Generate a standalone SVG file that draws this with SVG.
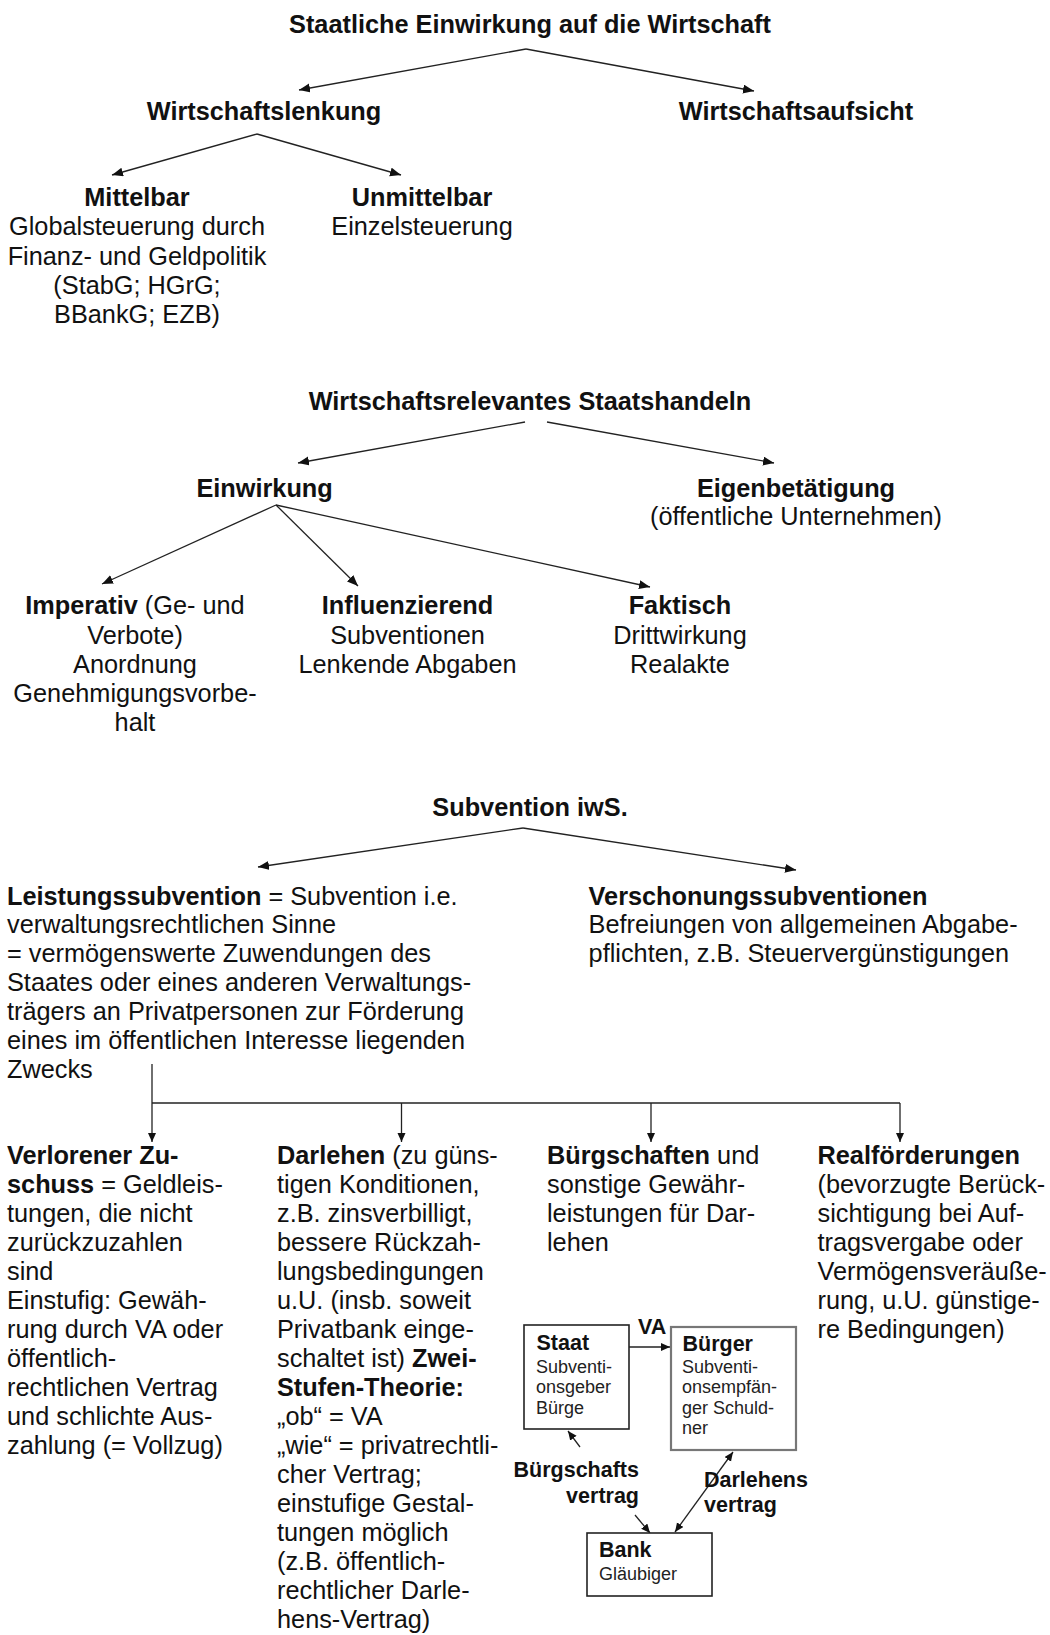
<svg xmlns="http://www.w3.org/2000/svg" width="1050" height="1635" viewBox="0 0 1050 1635">
  <style>
    .t { font-family: "Liberation Sans", Arial, sans-serif; font-size: 25.3px; fill: #111; }
    .b { font-weight: bold; }
    .c { text-anchor: middle; }
    .r { text-anchor: end; }
    .mb { font-family: "Liberation Sans", Arial, sans-serif; font-size: 21.5px; font-weight: bold; fill: #111; }
    .ms { font-family: "Liberation Sans", Arial, sans-serif; font-size: 18px; fill: #222; }
    .ln { stroke: #222; stroke-width: 1.3; fill: none; }
    .box { fill: #fff; stroke: #222; stroke-width: 1.6; }
    .box2 { fill: #fff; stroke: #777; stroke-width: 2.2; }
  </style>
  <defs>
    <marker id="ah" markerUnits="userSpaceOnUse" markerWidth="12" markerHeight="10" refX="11" refY="4.5" orient="auto">
      <path d="M0,0 L11,4.5 L0,9 z" fill="#111"/>
    </marker>
    <marker id="ahs" markerUnits="userSpaceOnUse" markerWidth="10" markerHeight="9" refX="9" refY="4" orient="auto-start-reverse">
      <path d="M0,0 L9,4 L0,8 z" fill="#111"/>
    </marker>
  </defs>
  <rect width="1050" height="1635" fill="#fff"/>

  <!-- connectors -->
  <g id="connectors">
    <path class="ln" d="M526,49 L299,90" marker-end="url(#ah)"/>
    <path class="ln" d="M526,49 L754,91" marker-end="url(#ah)"/>
    <path class="ln" d="M257,134 L112,175" marker-end="url(#ah)"/>
    <path class="ln" d="M257,134 L401,175" marker-end="url(#ah)"/>

    <path class="ln" d="M525,422 L298,463" marker-end="url(#ah)"/>
    <path class="ln" d="M547,422 L774,463" marker-end="url(#ah)"/>
    <path class="ln" d="M276,505 L102,584" marker-end="url(#ah)"/>
    <path class="ln" d="M276,505 L358,586" marker-end="url(#ah)"/>
    <path class="ln" d="M276,505 L650,587" marker-end="url(#ah)"/>

    <path class="ln" d="M523,828 L258,867" marker-end="url(#ah)"/>
    <path class="ln" d="M523,828 L796,870" marker-end="url(#ah)"/>

    <path class="ln" d="M152,1064 L152,1142" marker-end="url(#ahs)"/>
    <path class="ln" d="M152,1103 L900,1103"/>
    <path class="ln" d="M401.5,1103 L401.5,1142" marker-end="url(#ahs)"/>
    <path class="ln" d="M651,1103 L651,1142" marker-end="url(#ahs)"/>
    <path class="ln" d="M900,1103 L900,1142" marker-end="url(#ahs)"/>

    <path class="ln" d="M629,1347 L670,1347" marker-end="url(#ahs)"/>
    <path class="ln" d="M580,1447 L568,1431" marker-end="url(#ahs)"/>
    <path class="ln" d="M635,1515 L650,1533" marker-end="url(#ahs)"/>
    <path class="ln" d="M675,1532 L733,1452" marker-start="url(#ahs)" marker-end="url(#ahs)"/>
  </g>

  <!-- Staatliche Einwirkung -->
  <g id="staatliche-einwirkung">
    <text class="t b c" x="530" y="32.5">Staatliche Einwirkung auf die Wirtschaft</text>
  </g>
  <g id="wirtschaftslenkung">
    <text class="t b c" x="264" y="120">Wirtschaftslenkung</text>
  </g>
  <g id="wirtschaftsaufsicht">
    <text class="t b c" x="796" y="120">Wirtschaftsaufsicht</text>
  </g>
  <g id="mittelbar">
    <text class="t b c" x="137" y="206">Mittelbar</text>
    <text class="t c" x="137" y="235.3">Globalsteuerung durch</text>
    <text class="t c" x="137" y="264.6">Finanz- und Geldpolitik</text>
    <text class="t c" x="137" y="293.9">(StabG; HGrG;</text>
    <text class="t c" x="137" y="323.2">BBankG; EZB)</text>
  </g>
  <g id="unmittelbar">
    <text class="t b c" x="422" y="206">Unmittelbar</text>
    <text class="t c" x="422" y="235.3">Einzelsteuerung</text>
  </g>

  <!-- Wirtschaftsrelevantes Staatshandeln -->
  <g id="staatshandeln">
    <text class="t b c" x="530" y="409.5">Wirtschaftsrelevantes Staatshandeln</text>
  </g>
  <g id="einwirkung">
    <text class="t b c" x="264.6" y="496.5">Einwirkung</text>
  </g>
  <g id="eigenbetaetigung">
    <text class="t b c" x="796" y="496.5">Eigenbetätigung</text>
    <text class="t c" x="796" y="525">(öffentliche Unternehmen)</text>
  </g>
  <g id="imperativ">
    <text class="t c" x="135" y="614.4"><tspan class="b">Imperativ</tspan> (Ge- und</text>
    <text class="t c" x="135" y="643.5">Verbote)</text>
    <text class="t c" x="135" y="672.6">Anordnung</text>
    <text class="t c" x="135" y="701.7">Genehmigungsvorbe-</text>
    <text class="t c" x="135" y="730.8">halt</text>
  </g>
  <g id="influenzierend">
    <text class="t b c" x="407.5" y="614.4">Influenzierend</text>
    <text class="t c" x="407.5" y="643.5">Subventionen</text>
    <text class="t c" x="407.5" y="672.6">Lenkende Abgaben</text>
  </g>
  <g id="faktisch">
    <text class="t b c" x="680" y="614.4">Faktisch</text>
    <text class="t c" x="680" y="643.5">Drittwirkung</text>
    <text class="t c" x="680" y="672.6">Realakte</text>
  </g>

  <!-- Subvention iwS. -->
  <g id="subvention-iws">
    <text class="t b c" x="530" y="816.2">Subvention iwS.</text>
  </g>
  <g id="leistungssubvention">
    <text class="t" x="7" y="904.5"><tspan class="b">Leistungssubvention</tspan> = Subvention i.e.</text>
    <text class="t" x="7" y="933.4">verwaltungsrechtlichen Sinne</text>
    <text class="t" x="7" y="962.3">= vermögenswerte Zuwendungen des</text>
    <text class="t" x="7" y="991.2">Staates oder eines anderen Verwaltungs-</text>
    <text class="t" x="7" y="1020.1">trägers an Privatpersonen zur Förderung</text>
    <text class="t" x="7" y="1049">eines im öffentlichen Interesse liegenden</text>
    <text class="t" x="7" y="1077.9">Zwecks</text>
  </g>
  <g id="verschonungssubventionen">
    <text class="t b" x="588.6" y="904.5">Verschonungssubventionen</text>
    <text class="t" x="588.6" y="933.4">Befreiungen von allgemeinen Abgabe-</text>
    <text class="t" x="588.6" y="962.3">pflichten, z.B. Steuervergünstigungen</text>
  </g>

  <g id="verlorener-zuschuss">
    <text class="t b" x="7" y="1164">Verlorener Zu-</text>
    <text class="t" x="7" y="1193"><tspan class="b">schuss</tspan> = Geldleis-</text>
    <text class="t" x="7" y="1222">tungen, die nicht</text>
    <text class="t" x="7" y="1251">zurückzuzahlen</text>
    <text class="t" x="7" y="1280">sind</text>
    <text class="t" x="7" y="1309">Einstufig: Gewäh-</text>
    <text class="t" x="7" y="1338">rung durch VA oder</text>
    <text class="t" x="7" y="1367">öffentlich-</text>
    <text class="t" x="7" y="1396">rechtlichen Vertrag</text>
    <text class="t" x="7" y="1425">und schlichte Aus-</text>
    <text class="t" x="7" y="1454">zahlung (= Vollzug)</text>
  </g>
  <g id="darlehen">
    <text class="t" x="277" y="1164"><tspan class="b">Darlehen</tspan> (zu güns-</text>
    <text class="t" x="277" y="1193">tigen Konditionen,</text>
    <text class="t" x="277" y="1222">z.B. zinsverbilligt,</text>
    <text class="t" x="277" y="1251">bessere Rückzah-</text>
    <text class="t" x="277" y="1280">lungsbedingungen</text>
    <text class="t" x="277" y="1309">u.U. (insb. soweit</text>
    <text class="t" x="277" y="1338">Privatbank einge-</text>
    <text class="t" x="277" y="1367">schaltet ist) <tspan class="b">Zwei-</tspan></text>
    <text class="t b" x="277" y="1396">Stufen-Theorie:</text>
    <text class="t" x="277" y="1425">„ob“ = VA</text>
    <text class="t" x="277" y="1454">„wie“ = privatrechtli-</text>
    <text class="t" x="277" y="1483">cher Vertrag;</text>
    <text class="t" x="277" y="1512">einstufige Gestal-</text>
    <text class="t" x="277" y="1541">tungen möglich</text>
    <text class="t" x="277" y="1570">(z.B. öffentlich-</text>
    <text class="t" x="277" y="1599">rechtlicher Darle-</text>
    <text class="t" x="277" y="1628">hens-Vertrag)</text>
  </g>
  <g id="buergschaften">
    <text class="t" x="547" y="1164"><tspan class="b">Bürgschaften</tspan> und</text>
    <text class="t" x="547" y="1193">sonstige Gewähr-</text>
    <text class="t" x="547" y="1222">leistungen für Dar-</text>
    <text class="t" x="547" y="1251">lehen</text>
  </g>
  <g id="realfoerderungen">
    <text class="t b" x="817.5" y="1164">Realförderungen</text>
    <text class="t" x="817.5" y="1193">(bevorzugte Berück-</text>
    <text class="t" x="817.5" y="1222">sichtigung bei Auf-</text>
    <text class="t" x="817.5" y="1251">tragsvergabe oder</text>
    <text class="t" x="817.5" y="1280">Vermögensveräuße-</text>
    <text class="t" x="817.5" y="1309">rung, u.U. günstige-</text>
    <text class="t" x="817.5" y="1338">re Bedingungen)</text>
  </g>

  <!-- guarantee triangle: Staat, Bürger, Bank -->
  <g id="staat">
    <rect class="box" x="524" y="1325" width="105" height="104"/>
    <text class="mb" x="536.5" y="1350">Staat</text>
    <text class="ms" x="536" y="1372.7">Subventi-</text>
    <text class="ms" x="536" y="1393.2">onsgeber</text>
    <text class="ms" x="536" y="1413.7">Bürge</text>
  </g>
  <g id="buerger">
    <rect class="box2" x="671" y="1327" width="125" height="123"/>
    <text class="mb" x="682.5" y="1350.7">Bürger</text>
    <text class="ms" x="682" y="1372.7">Subventi-</text>
    <text class="ms" x="682" y="1393.2">onsempfän-</text>
    <text class="ms" x="682" y="1413.7">ger Schuld-</text>
    <text class="ms" x="682" y="1434.2">ner</text>
  </g>
  <g id="bank">
    <rect class="box" x="587" y="1533" width="125" height="63"/>
    <text class="mb" x="599" y="1556.7">Bank</text>
    <text class="ms" x="599" y="1580">Gläubiger</text>
  </g>
  <g id="labels">
    <text class="mb" x="638" y="1333.5">VA</text>
    <text class="mb r" x="639" y="1476.7">Bürgschafts</text>
    <text class="mb r" x="639" y="1502.7">vertrag</text>
    <text class="mb" x="704" y="1486.7">Darlehens</text>
    <text class="mb" x="704" y="1512">vertrag</text>
  </g>
</svg>
